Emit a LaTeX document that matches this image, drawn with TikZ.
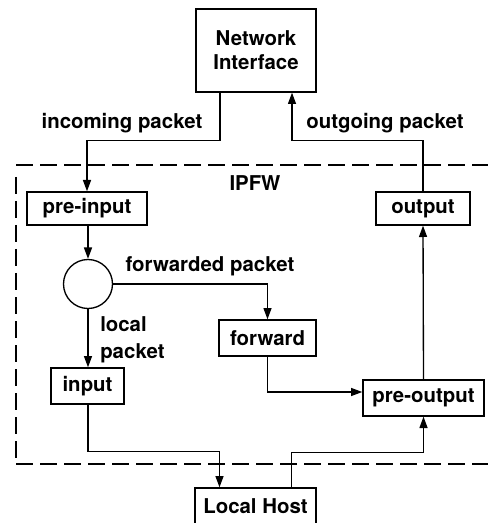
\documentclass[tikz,border=0pt]{standalone}
\usepackage{fontspec}
\setmainfont{TeX Gyre Heros}
\usetikzlibrary{arrows.meta,calc}

\newcommand{\diagfont}{\fontsize{15.3}{19}\selectfont\bfseries}

\tikzset{
  box/.style={draw, line width=1pt, inner sep=0pt, font=\diagfont},
  lbl/.style={font=\diagfont, inner sep=0pt},
  arr/.style={line width=1pt, -{Triangle[length=8.5pt,width=6pt]}},
  frame/.style={line width=1pt, dash pattern=on 12.75pt off 5.25pt},
}

\begin{document}
\begin{tikzpicture}[x=0.75pt, y=-0.75pt]
\useasboundingbox (0,0) rectangle (487,523);

% IPFW boundary
\draw[frame] (16,165) -- (495,165);
\draw[frame] (16,464) -- (495,464);
\draw[frame] (16,177) -- (16,458);
\node[lbl] (ipfw) at (255,183) {IPFW};

% blocks
\node[box, minimum width=90pt, minimum height=62.25pt, align=center] (ni) at (256,50.5) {Network\\[-1pt]Interface};
\node[box, minimum width=90pt, minimum height=24.75pt] (pre) at (87,208.5) {pre-input};
\node[box, minimum width=70.5pt, minimum height=24.75pt] (out) at (423,208.5) {output};
\node[draw, circle, line width=1pt, minimum size=36.75pt, inner sep=0pt] (dec) at (88,284) {};
\node[box, minimum width=72.75pt, minimum height=27pt] (fwd) at (267.5,338) {forward};
\node[box, minimum width=54.75pt, minimum height=27pt] (inp) at (87.5,386) {input};
\node[box, minimum width=90.75pt, minimum height=27pt] (pout) at (423.5,398) {pre-output};
\node[box, minimum width=90.75pt, minimum height=33pt] (lh) at (255.5,510) {};
\node[lbl] (lhtext) at (255.5,506) {Local Host};

% labels
\node[lbl] (incl) at (122,123) {incoming packet};
\node[lbl] (outl) at (385,123) {outgoing packet};
\node[lbl] (fwdl) at (210,266) {forwarded packet};
\node[lbl, align=left, anchor=west] (locl) at (100,340) {local\\[1pt]packet};

% connectors
\draw[arr] ($(ni.south)+(-36,0)$) |- ($(pre.north)+(0,-51)$) -- (pre.north);
\draw[arr] (out.north) -- ++(0,-51) -| ($(ni.south)+(36,0)$);
\draw[arr] (pre.south -| dec.north) -- (dec.north);
\draw[arr] (dec.east) -| (fwd.north);
\draw[arr] (dec.south) -- (dec.south |- inp.north);
\draw[arr] (inp.south -| dec.south) |- ($(lh.north)+(-36,-36)$) -- ($(lh.north)+(-36,0)$);
\draw[arr] (fwd.south) |- ($(pout.west)+(0,-6)$);
\draw[arr] (pout.north) -- (out.south);
\draw[arr] ($(lh.north)+(36,0)$) |- ($(pout.south)+(0,36)$) -- (pout.south);
\end{tikzpicture}
\end{document}
